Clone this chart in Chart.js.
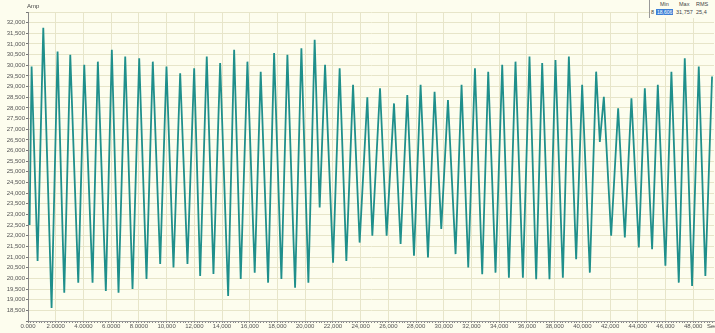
<!DOCTYPE html>
<html>
<head>
<meta charset="utf-8">
<script src="https://cdn.jsdelivr.net/npm/chart.js@4"></script>
<style>
  html, body { margin: 0; padding: 0; background: #fdfdee; }
  #wrap { position: relative; width: 715px; height: 333px; overflow: hidden; font-family: "Liberation Sans", Arial, sans-serif; }
  #wrap canvas { position: absolute; left: 0; top: 0; }
  .lbl { position: absolute; font-size: 6px; color: #444; white-space: nowrap; }
  #stats { position: absolute; left: 649px; top: 0; width: 70px; height: 18px; border-left: 1px solid #999; background: #fdfdee; }
  #stats .lbl { font-size: 5.5px; }
  #stats .sel { background: #3c7fd6; color: #fff; padding: 0 1px; font-size: 5px; }
</style>
</head>
<body>
<div id="wrap">
  <canvas id="ampChart" width="715" height="333"></canvas>
  <div class="lbl" style="left:27px;top:3px;">Amp</div>
  <div class="lbl" style="left:707px;top:323px;">Sec</div>
  <div id="stats">
    <div class="lbl" style="left:10px;top:1px;">Min</div>
    <div class="lbl" style="left:29px;top:1px;">Max</div>
    <div class="lbl" style="left:46px;top:1px;">RMS</div>
    <div class="lbl" style="left:1px;top:9px;">8</div>
    <div class="lbl" style="left:6px;top:9px;"><span class="sel">18,606</span></div>
    <div class="lbl" style="left:26px;top:9px;">31,757</div>
    <div class="lbl" style="left:46px;top:9px;">25,4</div>
  </div>
</div>
<script>
// datos: picos y valles de la señal
const tiempos = [
  115, 260, 692, 1103, 1702, 2134, 2617, 3050, 3627, 4059,
  4658, 5040, 5617, 6049, 6532, 7015, 7542, 8025, 8551, 9005,
  9539, 9993, 10498, 10981, 11507, 11990, 12423, 12899, 13382, 13865,
  14442, 14874, 15350, 15833, 16359, 16792, 17326, 17758, 18285, 18717,
  19272, 19727, 20231, 20685, 21046, 21435, 22012, 22488, 22971, 23454,
  23930, 24485, 24846, 25401, 25877, 26410, 26886, 27369, 27852, 28328,
  28862, 29337, 29820, 30303, 30851, 31284, 31767, 32250, 32776, 33208,
  33735, 34218, 34701, 35177, 35710, 36186, 36669, 37102, 37629, 38061,
  38594, 39027, 39553, 39986, 40541, 40996, 41262, 41551, 42078, 42583,
  43066, 43542, 44075, 44508, 45034, 45445, 45993, 46426, 46959, 47391,
  47918, 48401, 48877, 49360
];
const amperes = [
  22500, 29940, 20820, 31757, 18606, 30650, 19330, 30490, 19800, 30020,
  19800, 30170, 19410, 30730, 19330, 30410, 19500, 30330, 19970, 30170,
  20680, 29940, 20510, 29630, 20680, 29860, 20110, 30410, 20210, 30100,
  19170, 30730, 19970, 30170, 20270, 29700, 19800, 30570, 19970, 30490,
  19560, 30800, 19800, 31200, 23330, 30020, 20740, 29860, 20820, 29080,
  21680, 28500, 22000, 28920, 22000, 28210, 21610, 28600, 21060, 29080,
  20980, 28760, 22320, 28370, 21140, 29080, 20510, 29860, 20190, 29700,
  20270, 30020, 20030, 30170, 20030, 30410, 19960, 30100, 19960, 30250,
  20030, 30410, 20900, 29080, 20270, 29700, 26400, 28520, 22000, 27980,
  21920, 28450, 21450, 28920, 21370, 29080, 20590, 29700, 19800, 30330,
  19640, 29940, 20110, 29470
];
const xTickLabels = [
  '0.000', '2.0000', '4.0000', '6.0000', '8.0000', '10,000', '12,000', '14,000', '16,000',
  '18,000', '20,000', '22,000', '24,000', '26,000', '28,000', '30,000', '32,000', '34,000',
  '36,000', '38,000', '40,000', '42,000', '44,000', '46,000', '48,000'
];
const yMin = 18000, yMax = 32500, yPaso = 500;
const xMax = 49500, xPaso = 2000, xMenor = 200;

const puntos = tiempos.map((t, i) => ({ x: t, y: amperes[i] }));
const colorGrid = '#e7e5c9';

const ctx = document.getElementById('ampChart').getContext('2d');
const chart = new Chart(ctx, {
  type: 'line',
  data: {
    datasets: [{
      label: 'Amp',
      data: puntos,
      borderColor: '#1f8f8b',
      borderWidth: 1.8,
      pointRadius: 0,
      tension: 0,
      fill: false
    }]
  },
  options: {
    responsive: false,
    animation: false,
    layout: { padding: { top: 12, right: 1, left: 0, bottom: 0 } },
    plugins: { legend: { display: false }, tooltip: { enabled: false } },
    scales: {
      x: {
        type: 'linear',
        min: 0,
        max: xMax,
        afterBuildTicks: scale => {
          const t = [];
          for (let v = 0; v <= xMax; v += xMenor) t.push({ value: v });
          scale.ticks = t;
        },
        afterFit: scale => { scale.height = 12; },
        ticks: {
          autoSkip: false,
          maxRotation: 0,
          padding: 0,
          color: '#555',
          font: { size: 6, family: 'Liberation Sans' },
          callback: v => (v % xPaso === 0 ? (xTickLabels[v / xPaso] || '') : '')
        },
        grid: {
          color: c => (c.tick && c.tick.value % xPaso === 0 ? colorGrid : 'rgba(0,0,0,0)'),
          tickColor: '#888',
          tickLength: 2,
          drawOnChartArea: true
        },
        border: { color: '#999' }
      },
      y: {
        min: yMin,
        max: yMax,
        afterFit: scale => { scale.width = 28; },
        ticks: {
          stepSize: yPaso,
          padding: 1,
          color: '#555',
          font: { size: 6, family: 'Liberation Sans' },
          callback: v => (v === yMin || v === yMax ? '' : v.toLocaleString('en-US'))
        },
        grid: { color: colorGrid, tickColor: '#777', tickLength: 2 },
        border: { color: '#888' }
      }
    }
  }
});
</script>
</body>
</html>
